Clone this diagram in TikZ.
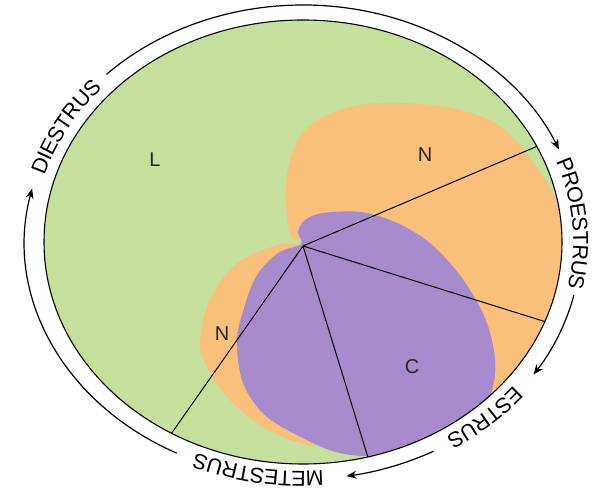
\documentclass[tikz,border=0pt]{standalone}
\usepackage{fontspec}
\setmainfont{Liberation Sans}
\usetikzlibrary{decorations.text,arrows.meta,calc}
\definecolor{lgreen}{RGB}{196,224,156}
\definecolor{lorange}{RGB}{249,192,124}
\definecolor{lpurple}{RGB}{168,139,204}
\begin{document}
\begin{tikzpicture}[x=1pt,y=1pt,
  ring/.style={line width=1.2pt,-{Stealth[length=10pt,width=8pt]}},
  ringtext/.style={decorate,decoration={text along path,text align=center,raise=-7.8pt,
     text={|\fontsize{21.5}{21.5}\selectfont|#1}}},
  radial/.style={line width=1pt,black},
  lbl/.style={font=\fontsize{20}{20}\selectfont,text=black!85}]
\useasboundingbox (0,0) rectangle (595,500);
\coordinate (O) at (303,258);
\begin{scope}
\clip (O) ellipse [x radius=259, y radius=222];
\fill[lgreen] (O) ellipse [x radius=259, y radius=222];
% upper-right orange region
\fill[lorange] plot[smooth cycle,tension=0.6] coordinates {
 (292,262) (286,300) (290,340) (308,373) (350,393) (403,397) (460,390)
 (505,370) (545,320) (568,270) (585,180) (545,75) (470,55)
 (420,170) (360,250) (310,262)};
% lower-left orange lobe
\fill[lorange] plot[smooth cycle,tension=0.6] coordinates {
 (294,256) (263,250) (233,233) (210,200) (200,160) (207,133) (230,100)
 (263,73) (298,58) (320,62) (320,150) (305,230)};
% purple region
\fill[lpurple] plot[smooth cycle,tension=0.55] coordinates {
 (301,256) (298,268) (305,280) (323,287) (360,288) (395,278) (430,257)
 (462,222) (485,182) (495,142) (492,110) (476,78) (425,50) (372,44)
 (340,47) (313,57) (267,83) (243,117) (237,160) (245,195) (257,225) (278,247)};
\end{scope}
% radial lines
\coordinate (E1) at ($(O)+(25.5:259 and 222)$);
\coordinate (E2) at ($(O)+(-21:259 and 222)$);
\coordinate (E3) at ($(O)+(-75.5:259 and 222)$);
\coordinate (E4) at ($(O)+(-120.5:259 and 222)$);
\coordinate (C) at (303,254);
\draw[radial] (C) -- (E1);
\draw[radial] (C) -- (E2);
\draw[radial] (C) -- (E3);
\draw[radial] (C) -- (E4);
\draw[line width=1.1pt] (O) ellipse [x radius=259, y radius=222];
% outer ring arcs
\draw[ring] (O) ++(135:278 and 237) arc[start angle=135,end angle=23,x radius=278,y radius=237];
\draw[ring] (O) ++(-13:278 and 237) arc[start angle=-13,end angle=-34,x radius=278,y radius=237];
\draw[ring] (O) ++(-62:278 and 237) arc[start angle=-62,end angle=-81,x radius=278,y radius=237];
\draw[ring] (O) ++(-117:278 and 237) arc[start angle=-117,end angle=-193,x radius=278,y radius=237];
% ring texts
\path[ringtext=DIESTRUS] (O) ++(165:278 and 237) arc[start angle=165,end angle=136,x radius=278,y radius=237];
\path[ringtext=PROESTRUS] (O) ++(21:278 and 237) arc[start angle=21,end angle=-12,x radius=278,y radius=237];
\path[ringtext=ESTRUS] (O) ++(-36:278 and 237) arc[start angle=-36,end angle=-61,x radius=278,y radius=237];
\path[ringtext=METESTRUS] (O) ++(-83:278 and 237) arc[start angle=-83,end angle=-116,x radius=278,y radius=237];
% labels
\node[lbl] (L) at (155,340) {L};
\node[lbl] (N1) at (425,345) {N};
\node[lbl] (N2) at (222,166) {N};
\node[lbl] (Cl) at (412,133) {C};
\end{tikzpicture}
\end{document}
